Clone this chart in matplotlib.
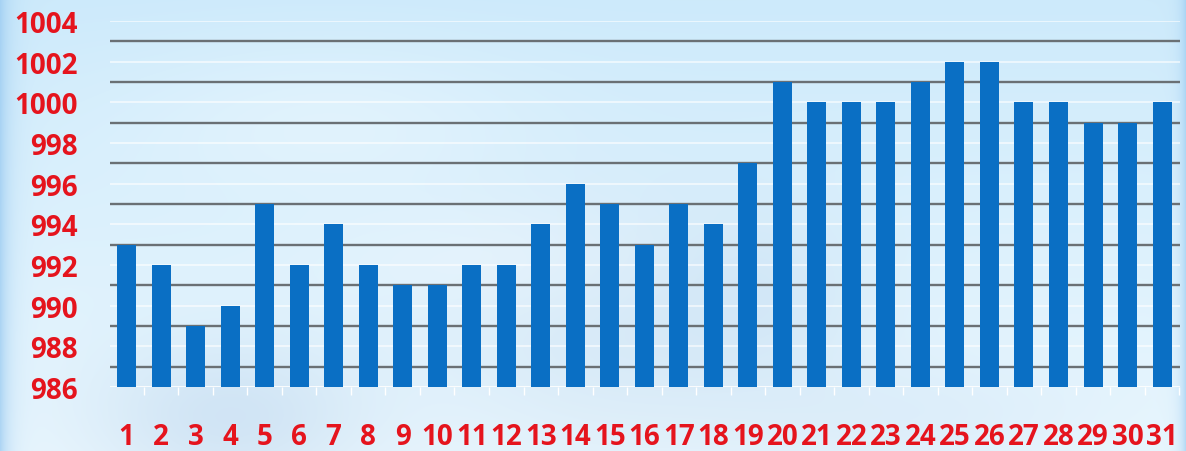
import numpy as np
import matplotlib
matplotlib.use("Agg")
import matplotlib.pyplot as plt
from matplotlib.ticker import FixedLocator

# Daily pressure readings (hPa) for one month
days = list(range(1, 32))
pressure = [993, 992, 989, 990, 995, 992, 994, 992, 991, 991,
            992, 992, 994, 996, 995, 993, 995, 994, 997, 1001,
            1000, 1000, 1000, 1001, 1002, 1002, 1000, 1000, 999, 999,
            1000]
day_labels = [str(d) for d in days]
y_ticks = list(range(986, 1005, 2))

BAR_BLUE = "#0a6fc4"
LABEL_RED = "#e5141d"
GRID_DARK = "#6a7074"

W, H = 1186, 452
fig = plt.figure(figsize=(W / 100, H / 100), dpi=100)

# Sky backdrop: soft vertical gradient, bluish side edges and hazy cloud shapes
bg = fig.add_axes([0, 0, 1, 1], zorder=0)
yy, xx = np.mgrid[0:H, 0:W].astype(float)
top = np.array([205, 234, 251]) / 255.0
mid = np.array([234, 247, 254]) / 255.0
t = np.clip(yy / H, 0, 1)[..., None]
img = top * (1 - t) + mid * t


def blob(cx, cy, sx, sy, amp, col):
    g = np.exp(-(((xx - cx) / sx) ** 2 + ((yy - cy) / sy) ** 2))[..., None] * amp
    return g, np.array(col) / 255.0


for cx, cy, sx, sy, amp, col in [
    (230, 420, 140, 80, 0.40, (175, 203, 232)),
    (600, 330, 170, 140, 0.30, (190, 213, 236)),
    (760, 300, 110, 90, 0.25, (180, 208, 236)),
    (500, 260, 160, 60, 0.35, (246, 251, 255)),
    (900, 420, 200, 60, 0.25, (190, 215, 240)),
    (330, 120, 200, 80, 0.35, (246, 252, 255)),
]:
    g, c = blob(cx, cy, sx, sy, amp, col)
    img = img * (1 - g) + c * g
# darker blue side strips
left = np.exp(-xx / 10.0)[..., None] * 0.7
right = np.exp(-(W - 1 - xx) / 6.0)[..., None] * 0.6
edge = np.array([150, 200, 240]) / 255.0
img = img * (1 - left) + edge * left
img = img * (1 - right) + edge * right
bg.imshow(np.clip(img, 0, 1), aspect="auto", extent=[0, 1, 0, 1], origin="upper")
bg.set_axis_off()

ax = fig.add_axes([110 / W, 64 / H, 1070 / W, 366 / H], zorder=1)
ax.patch.set_alpha(0)

# light lines at even values, darker rules at odd values
for v in range(986, 1005, 2):
    ax.axhline(v, color="white", lw=1.2, alpha=0.7, zorder=1)
for v in range(987, 1004, 2):
    ax.axhline(v, color=GRID_DARK, lw=1.7, zorder=2)

ax.bar(days, [p - 986 for p in pressure], bottom=986, width=0.55,
       color=BAR_BLUE, zorder=3)

ax.set_xlim(0.52, 31.52)
ax.set_ylim(986, 1004)

ax.set_yticks(y_ticks)
ax.set_yticklabels([str(v) for v in y_ticks])
ax.set_xticks(days)
ax.set_xticklabels(day_labels)
ax.xaxis.set_minor_locator(FixedLocator([d + 0.5 for d in range(0, 32)]))

for spine in ax.spines.values():
    spine.set_visible(False)
ax.axhline(986, color="white", lw=1.2, alpha=0.8, zorder=1)

ax.tick_params(axis="y", length=0, pad=23, labelcolor=LABEL_RED, labelsize=20)
ax.tick_params(axis="x", which="major", length=0, pad=25,
               labelcolor=LABEL_RED, labelsize=20)
ax.tick_params(axis="x", which="minor", length=6, width=1, color="white",
               direction="out")
for lab in ax.get_xticklabels() + ax.get_yticklabels():
    lab.set_fontfamily("Open Sans")
    lab.set_fontweight("bold")

fig.savefig("out.png", dpi=100)
